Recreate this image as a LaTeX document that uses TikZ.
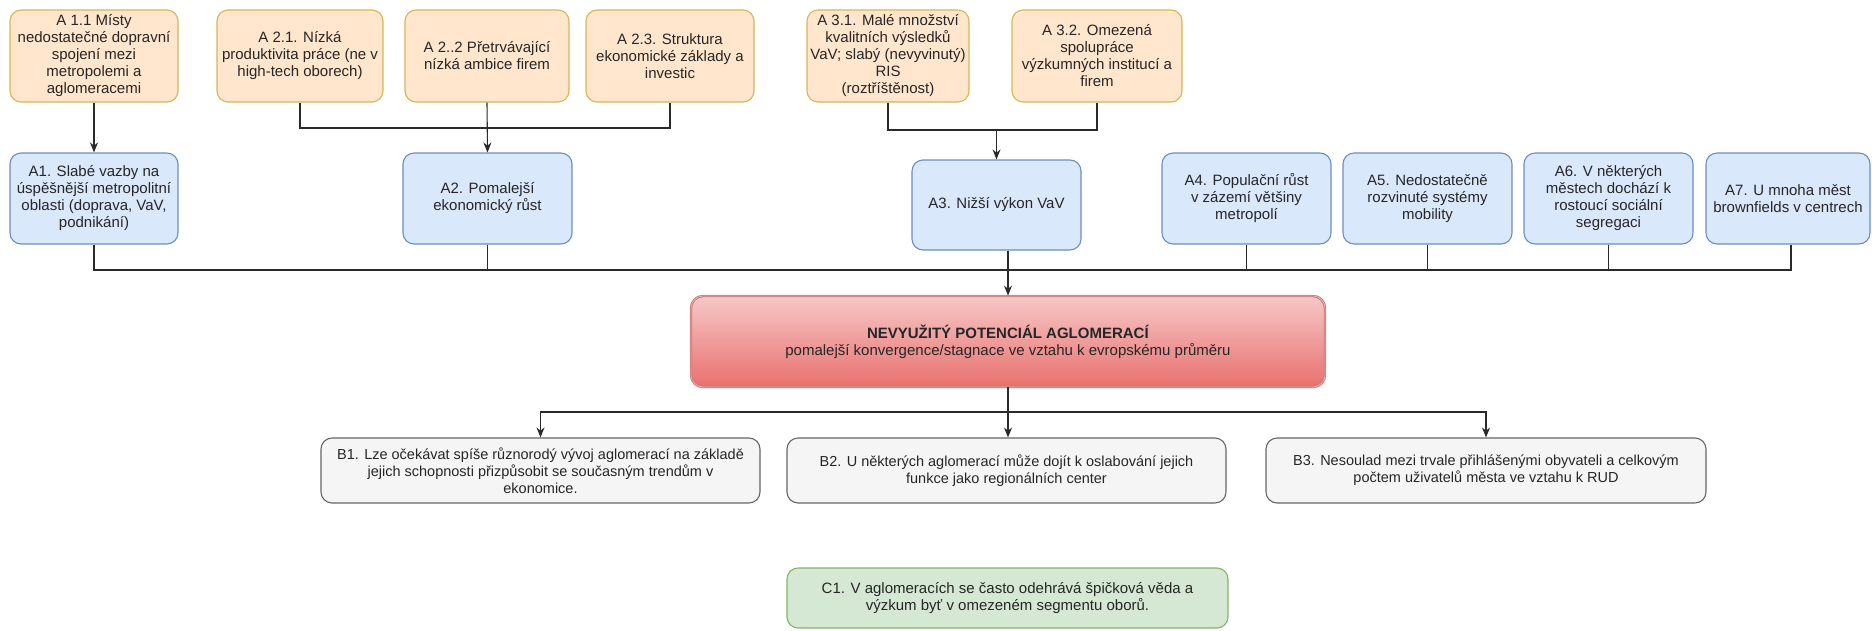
\documentclass[tikz,border=0pt]{standalone}
\usepackage{fontspec}
\setmainfont{Liberation Sans}
\usetikzlibrary{arrows.meta,shadings}
\definecolor{ofill}{HTML}{FFE6CC}
\definecolor{odraw}{HTML}{D6B656}
\definecolor{bfill}{HTML}{DAE8FC}
\definecolor{bdraw}{HTML}{6C8EBF}
\definecolor{gfill}{HTML}{F5F5F5}
\definecolor{gdraw}{HTML}{666666}
\definecolor{cfill}{HTML}{D5E8D4}
\definecolor{cdraw}{HTML}{82B366}
\definecolor{rtop}{HTML}{F6C8C7}
\definecolor{rbot}{HTML}{E8706E}
\definecolor{rdraw}{HTML}{B85450}
\definecolor{lnc}{HTML}{2A2A2A}
\tikzset{
  basebox/.style={rounded corners=11pt, line width=1.1pt, align=center, inner sep=2pt,
    font=\fontsize{15}{17}\selectfont, text=black!85},
  obox/.style={basebox, draw=odraw, fill=ofill, minimum height=92pt},
  bbox/.style={basebox, draw=bdraw, fill=bfill, minimum height=91pt},
  gbox/.style={basebox, draw=gdraw, fill=gfill, minimum height=65pt, minimum width=439pt,
    font=\fontsize{14.5}{17}\selectfont},
  cbox/.style={basebox, draw=cdraw, fill=cfill, minimum height=60pt, minimum width=441pt},
  rbox/.style={basebox, rounded corners=12pt, draw=rdraw!80, top color=rtop, bottom color=rbot,
    minimum width=634pt, minimum height=91pt, double=rtop!70!rbot, double distance=0.8pt, line width=0.8pt},
  conn/.style={draw=lnc, line width=1.1pt},
  arr/.style={conn, -{Stealth[length=10pt,width=8pt]}}
}
\begin{document}
\begin{tikzpicture}[x=1pt,y=-1pt]
\useasboundingbox (0,0) rectangle (1872,630);
% top orange boxes
\node[obox, minimum width=168pt] (a11) at (94,56) {A 1.1 Místy\\nedostatečné dopravní\\spojení mezi\\metropolemi a\\aglomeracemi};
\node[obox, minimum width=166pt] (a21) at (300,56) {A 2.1. Nízká\\produktivita práce (ne v\\high-tech oborech)};
\node[obox, minimum width=164pt] (a22) at (487,56) {A 2..2 Přetrvávající\\nízká ambice firem};
\node[obox, minimum width=168pt] (a23) at (670,56) {A 2.3. Struktura\\ekonomické základy a\\investic};
\node[obox, minimum width=162pt] (a31) at (888,56) {A 3.1. Malé množství\\kvalitních výsledků\\VaV; slabý (nevyvinutý)\\RIS\\(roztříštěnost)};
\node[obox, minimum width=170pt] (a32) at (1097,56) {A 3.2. Omezená\\spolupráce\\výzkumných institucí a\\firem};
% blue boxes
\node[bbox, minimum width=168pt] (a1) at (94,198.5) {A1. Slabé vazby na\\úspěšnější metropolitní\\oblasti (doprava, VaV,\\podnikání)};
\node[bbox, minimum width=169pt] (a2) at (487.5,198.5) {A2. Pomalejší\\ekonomický růst};
\node[bbox, minimum width=169pt, minimum height=90pt] (a3) at (996.5,205) {A3. Nižší výkon VaV};
\node[bbox, minimum width=169pt] (a4) at (1246.5,198.5) {A4. Populační růst\\v zázemí většiny\\metropolí};
\node[bbox, minimum width=169pt] (a5) at (1427.5,198.5) {A5. Nedostatečně\\rozvinuté systémy\\mobility};
\node[bbox, minimum width=169pt] (a6) at (1608.5,198.5) {A6. V některých\\městech dochází k\\rostoucí sociální\\segregaci};
\node[bbox, minimum width=164pt] (a7) at (1788,198.5) {A7. U mnoha měst\\brownfields v centrech};
% central red box
\node[rbox] (red) at (1008,341.5) {\textbf{NEVYUŽITÝ POTENCIÁL AGLOMERACÍ}\\pomalejší konvergence/stagnace ve vztahu k evropskému průměru};
% B boxes
\node[gbox] (b1) at (540.5,470.5) {B1. Lze očekávat spíše různorodý vývoj aglomerací na základě\\jejich schopnosti přizpůsobit se současným trendům v\\ekonomice.};
\node[gbox] (b2) at (1006.5,470.5) {B2. U některých aglomerací může dojít k oslabování jejich\\funkce jako regionálních center};
\node[gbox, minimum width=440pt] (b3) at (1486,470.5) {B3. Nesoulad mezi trvale přihlášenými obyvateli a celkovým\\počtem uživatelů města ve vztahu k RUD};
% C box
\node[cbox] (c1) at (1007.5,598) {C1. V aglomeracích se často odehrává špičková věda a\\výzkum byť v omezeném segmentu oborů.};
% junctions
\coordinate (j2) at (487,128);
\coordinate (j3) at (996.5,130);
\coordinate (j) at (1008,270);
\coordinate (k) at (1008,412);
% connectors top
\draw[arr] (a11) -- (a1);
\draw[conn] (a21.south) |- (j2) -| (a23.south);
\draw[arr] (a22.south) -- (a2.north);
\draw[conn] (a31.south) |- (j3) -| (a32.south);
\draw[arr] (j3) -- (a3.north);
% main collector
\draw[conn] (a1.south) |- (j) -| ([xshift=3pt]a7.south);
\draw[conn] (a2.south) -- (a2.south |- j);
\draw[conn] (a4.south) -- (a4.south |- j);
\draw[conn] (a5.south) -- (a5.south |- j);
\draw[conn] (a6.south) -- (a6.south |- j);
\draw[arr] (a3.south -| red.north) -- (red.north);
% bottom
\draw[conn] (red.south) -- (k);
\draw[arr] (k) -| (b1.north);
\draw[arr] (k) -- (b2.north -| k);
\draw[arr] (k) -| (b3.north);
\end{tikzpicture}
\end{document}
